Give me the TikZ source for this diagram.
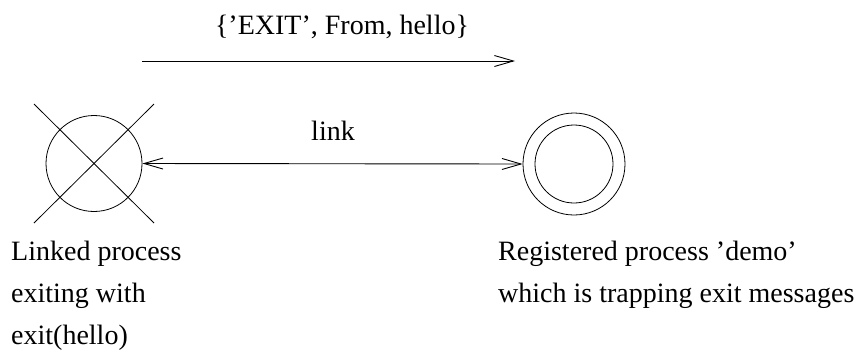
\documentclass[tikz,border=0pt]{standalone}
\usepackage{fontspec}
\setmainfont{Liberation Serif}
\usetikzlibrary{arrows.meta}
\begin{document}
\begin{tikzpicture}[x=1pt,y=-1pt,
  lbl/.style={anchor=base west,inner sep=0pt,font=\fontsize{28}{32}\selectfont},
  clbl/.style={anchor=base,inner sep=0pt,font=\fontsize{28}{32}\selectfont},
  msg/.style={line width=0.9pt,-{Straight Barb[length=19pt,width=11pt]}},
  lnk/.style={line width=0.9pt,{Straight Barb[length=19pt,width=11pt]}-{Straight Barb[length=19pt,width=11pt]}},
  shp/.style={line width=0.8pt}]
\useasboundingbox (0,0) rectangle (859,360);
% left process (dead)
\node[shp,draw,circle,minimum size=96pt,inner sep=0pt] (lp) at (94,163.5) {};
\coordinate (x1) at (34,104);
\coordinate (x2) at (154,223);
\coordinate (x3) at (154,104);
\coordinate (x4) at (34,223);
\draw[shp] (x1) -- (x2);
\draw[shp] (x3) -- (x4);
% right process (registered)
\node[shp,draw,circle,minimum size=102pt,inner sep=0pt] (rp) at (574,164) {};
\node[shp,draw,circle,minimum size=78pt,inner sep=0pt] (rpi) at (574,164) {};
% link
\draw[lnk] (lp.east) -- (rp.west);
\node[clbl] (linklbl) at (333,140) {link};
% exit message
\coordinate (m1) at (142,61);
\coordinate (m2) at (515,61);
\draw[msg] (m1) -- (m2);
\node[clbl] (exitlbl) at (342,34) {\{'EXIT', From, hello\}};
% labels
\node[lbl] (l1) at (11,260) {Linked process};
\node[lbl] (l2) at (11,302) {exiting with};
\node[lbl] (l3) at (11,344) {exit(hello)};
\node[lbl] (r1) at (498,260) {Registered process 'demo'};
\node[lbl] (r2) at (498,302) {which is trapping exit messages};
\end{tikzpicture}
\end{document}
